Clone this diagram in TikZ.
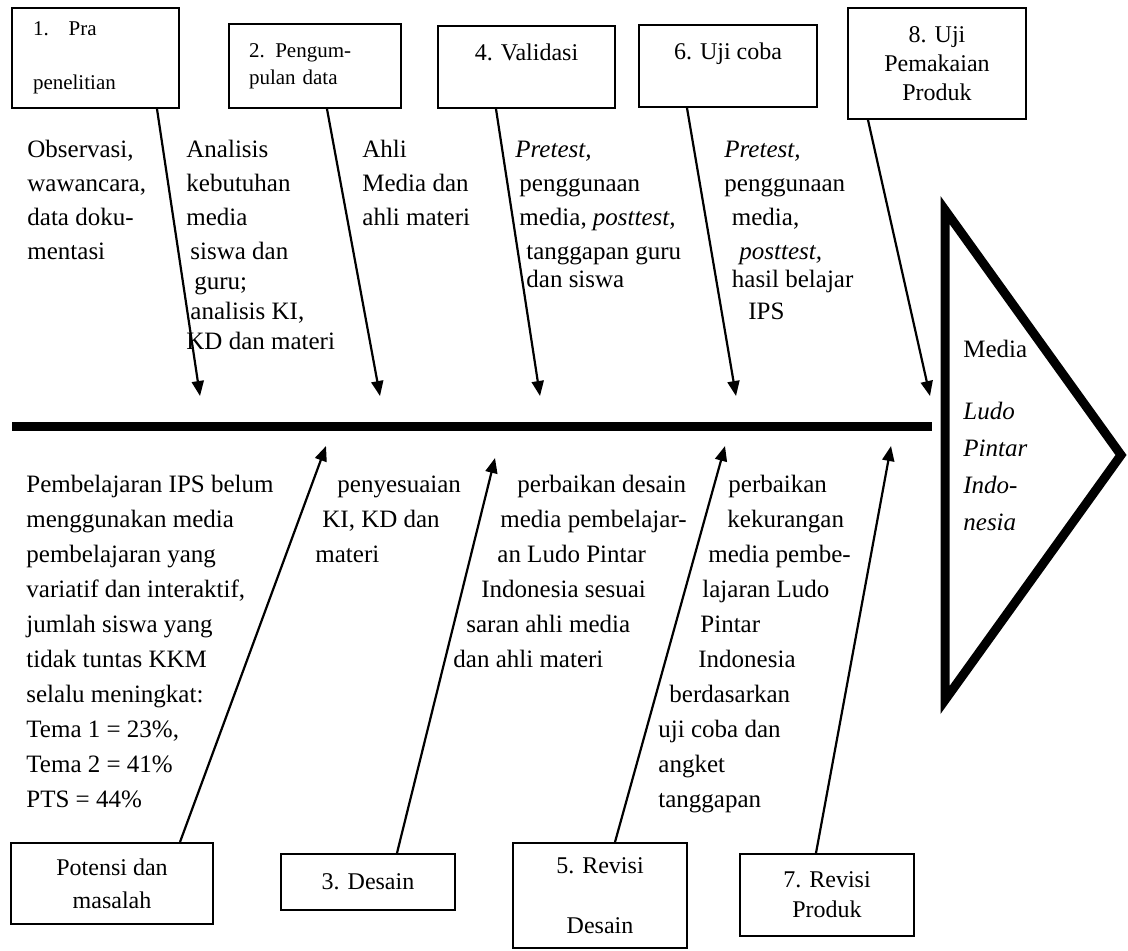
\documentclass[tikz,border=0pt]{standalone}
\usepackage{fontspec}
\setmainfont{Liberation Serif}
\usetikzlibrary{arrows.meta}

\tikzset{
  box/.style={draw,line width=1pt,inner sep=0pt,align=center,font=\fontsize{12}{14.5}\selectfont},
  smallbox/.style={box,align=left,font=\fontsize{10.5}{13.5}\selectfont},
  note/.style={anchor=base west,inner sep=0pt,align=left,font=\fontsize{12.5}{17.5}\selectfont},
  arr/.style={line width=1.1pt,-{Triangle[length=7.5pt,width=6pt]}},
  spine/.style={line width=4.5pt}
}

\begin{document}
\begin{tikzpicture}[x=0.5pt,y=-0.5pt]
  \useasboundingbox (0,0) rectangle (1128,950);

  % langkah di atas
  \node[smallbox,minimum width=83.5pt,minimum height=50pt,text width=62.5pt] (pra) at (95.5,58) {1.\hspace{10pt}Pra\\[13.5pt]penelitian};
  \node[smallbox,minimum width=86pt,minimum height=42pt,text width=66pt] (kumpul) at (315,66) {2. Pengum-\\pulan data};
  \node[box,minimum width=88.5pt,minimum height=41pt] (valid) at (526.5,67) {4. Validasi\\\mbox{}};
  \node[box,minimum width=89pt,minimum height=41pt] (ujicoba) at (728,66) {6. Uji coba\\\mbox{}};
  \node[box,minimum width=89pt,minimum height=55.5pt] (ujipakai) at (937,63.5) {8. Uji\\Pemakaian\\Produk};

  % langkah di bawah
  \node[box,minimum width=101pt,minimum height=40.5pt,font=\fontsize{12}{16.5}\selectfont] (potensi) at (112,883.5) {Potensi dan\\masalah};
  \node[box,minimum width=87pt,minimum height=28pt] (desain) at (368,882) {3. Desain};
  \node[box,minimum width=87pt,minimum height=52.5pt] (revdesain) at (600,895.5) {5. Revisi\\[15.5pt]Desain};
  \node[box,minimum width=87pt,minimum height=41pt,font=\fontsize{12}{15}\selectfont] (revproduk) at (827,895) {7. Revisi\\Produk};

  % tulang dan kepala
  \draw[spine] (12,426) -- (932,426);
  \draw[spine] (945,210) -- (1121,455) -- (945,700) -- cycle;
  % (base = baris terakhir)
  \node[note,font=\fontsize{12.5}{18.5}\selectfont] (media) at (963,530) {Media\\[12.5pt]\textit{Ludo}\\\textit{Pintar}\\\textit{Indo-}\\\textit{nesia}};

  % ujung panah
  \coordinate (t1) at (200,396);
  \coordinate (t2) at (380,396);
  \coordinate (t3) at (540,396);
  \coordinate (t4) at (736,396);
  \coordinate (t5) at (930,396);
  \coordinate (u1) at (326,446);
  \coordinate (u2) at (495,458);
  \coordinate (u3) at (725,446);
  \coordinate (u4) at (891,446);

  \path[arr]
    ([xshift=30.75pt]pra.south) edge (t1)
    ([xshift=6pt]kumpul.south) edge (t2)
    ([xshift=-15.25pt]valid.south) edge (t3)
    ([xshift=-20.5pt]ujicoba.south) edge (t4)
    ([xshift=-34.5pt]ujipakai.south) edge (t5);
  \path[arr]
    ([xshift=34pt]potensi.north) edge (u1)
    ([xshift=14.5pt]desain.north) edge (u2)
    ([xshift=7.5pt]revdesain.north) edge (u3)
    ([xshift=-5.5pt]revproduk.north) edge (u4);

  % keterangan atas
  \node[note,font=\fontsize{12.5}{17}\selectfont] (obs) at (27,259) {Observasi,\\wawancara,\\data doku-\\mentasi};
  \node[note,font=\fontsize{12.5}{17}\selectfont] (butuh) at (186,349) {Analisis\\kebutuhan\\media\\\hspace*{2pt}siswa dan\\[-2pt]\hspace*{4pt}guru;\\[-2pt]\hspace*{2pt}analisis KI,\\[-2pt]KD dan materi};
  \node[note,font=\fontsize{12.5}{17}\selectfont] (ahli) at (362,225) {Ahli\\Media dan\\ahli materi};
  \node[note,font=\fontsize{12.5}{17}\selectfont] (validket) at (515,287) {\textit{Pretest,}\\\hspace*{2pt}penggunaan\\\hspace*{2pt}media, \textit{posttest,}\\\hspace*{5.5pt}tanggapan guru\\[-3pt]\hspace*{5.5pt}dan siswa};
  \node[note,font=\fontsize{12.5}{17}\selectfont] (ujiket) at (724,319) {\textit{Pretest,}\\penggunaan\\\hspace*{3.75pt}media,\\\hspace*{7.5pt}\textit{posttest,}\\[-3pt]\hspace*{3.75pt}hasil belajar\\[-1pt]\hspace*{12pt}IPS};

  % keterangan bawah
  \node[note] (masalah) at (26,807) {Pembelajaran IPS belum\\menggunakan media\\pembelajaran yang\\variatif dan interaktif,\\jumlah siswa yang\\tidak tuntas KKM\\selalu meningkat:\\Tema 1 = 23\%,\\Tema 2 = 41\%\\PTS = 44\%};
  \node[note] (sesuai) at (315,562) {\hspace*{11pt}penyesuaian\\\hspace*{3.5pt}KI, KD dan\\materi};
  \node[note] (perbdesain) at (453,667) {\hspace*{32pt}perbaikan desain\\\hspace*{23.5pt}media pembelajar-\\\hspace*{22pt}an Ludo Pintar\\\hspace*{14pt}Indonesia sesuai\\\hspace*{6.5pt}saran ahli media\\dan ahli materi};
  \node[note] (perbproduk) at (658,807) {\hspace*{35pt}perbaikan\\\hspace*{34.5pt}kekurangan\\\hspace*{25pt}media pembe-\\\hspace*{22pt}lajaran Ludo\\\hspace*{21pt}Pintar\\\hspace*{20pt}Indonesia\\\hspace*{5.5pt}berdasarkan\\uji coba dan\\angket\\tanggapan};
\end{tikzpicture}
\end{document}
